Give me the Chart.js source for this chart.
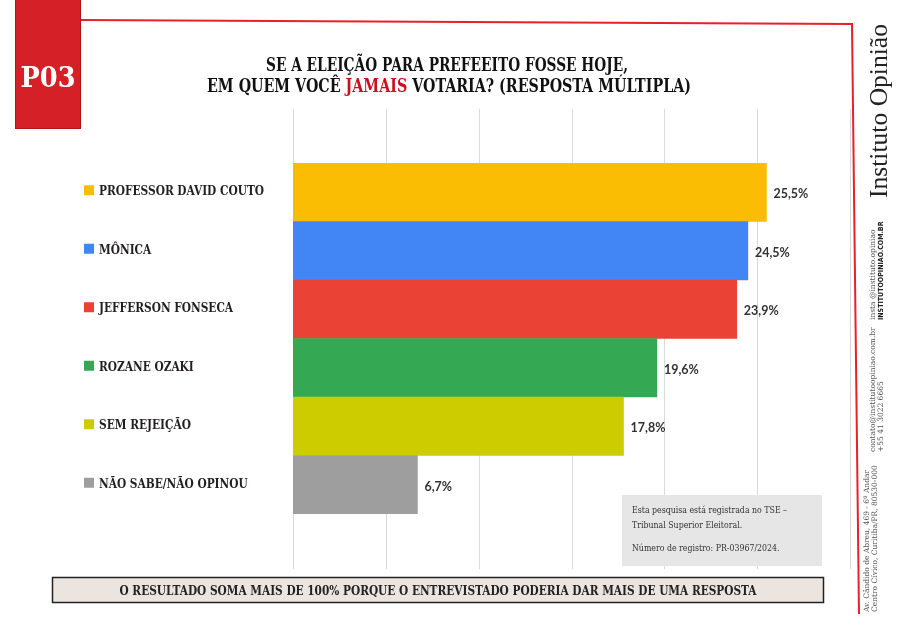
<!DOCTYPE html>
<html>
<head>
<meta charset="utf-8">
<script src="https://cdn.jsdelivr.net/npm/chart.js@4.4.1/dist/chart.umd.min.js"></script>
<style>
  html, body { margin: 0; padding: 0; background: #fff; }
  canvas { display: block; }
</style>
</head>
<body>
<canvas id="chart" width="899" height="627"></canvas>
<script>
const categories = ["PROFESSOR DAVID COUTO", "MÔNICA", "JEFFERSON FONSECA", "ROZANE OZAKI", "SEM REJEIÇÃO", "NÃO SABE/NÃO OPINOU"];
const values = [25.5, 24.5, 23.9, 19.6, 17.8, 6.7];
const barColors = ["#fbbc04", "#4285f4", "#ea4335", "#34a853", "#cccc00", "#9e9e9e"];
const xTicks = [0, 5, 10, 15, 20, 25, 30];
const titleLines = ["SE A ELEIÇÃO PARA PREFEEITO FOSSE HOJE,", ["EM QUEM VOCÊ ", "JAMAIS", " VOTARIA? (RESPOSTA MÚLTIPLA)"]];
const footerText = "O RESULTADO SOMA MAIS DE 100% PORQUE O ENTREVISTADO PODERIA DAR MAIS DE UMA RESPOSTA";
const noteLines = ["Esta pesquisa está registrada no TSE –", "Tribunal Superior Eleitoral.", "Número de registro: PR-03967/2024."];

const SLAB = "'DejaVu Serif Condensed', 'DejaVu Serif', serif";
const fmt = v => v.toFixed(1).replace(".", ",") + "%";

// draw text squeezed/stretched to a given width
function fitText(ctx, text, x, y, w, font, color, align) {
  ctx.save();
  ctx.font = font;
  ctx.fillStyle = color;
  const sx = w / ctx.measureText(text).width;
  ctx.translate(x, y);
  ctx.scale(sx, 1);
  ctx.textAlign = align || "left";
  ctx.fillText(text, 0, 0);
  ctx.restore();
  return sx;
}

function vText(ctx, text, x, y, font, color, align) {
  ctx.save();
  ctx.translate(x, y);
  ctx.rotate(-Math.PI / 2);
  ctx.font = font;
  ctx.fillStyle = color;
  ctx.textAlign = align || "left";
  ctx.textBaseline = "middle";
  ctx.fillText(text, 0, 0);
  ctx.restore();
}

const gridPlugin = {
  id: "grid",
  beforeDraw(chart) {
    const ctx = chart.ctx;
    ctx.save();
    ctx.fillStyle = "#fff";
    ctx.fillRect(0, 0, chart.width, chart.height);
    ctx.restore();
  },
  beforeDatasetsDraw(chart) {
    const ctx = chart.ctx, xs = chart.scales.x;
    ctx.save();
    ctx.strokeStyle = "#d9d9d9";
    ctx.lineWidth = 1;
    xTicks.forEach(t => {
      const px = Math.round(xs.getPixelForValue(t)) + 0.5;
      ctx.beginPath();
      ctx.moveTo(px, 109);
      ctx.lineTo(px, 569);
      ctx.stroke();
    });
    ctx.restore();
  }
};

const decoPlugin = {
  id: "deco",
  afterDraw(chart) {
    const ctx = chart.ctx, xs = chart.scales.x, ys = chart.scales.y;

    // red frame line
    ctx.save();
    ctx.strokeStyle = "#e8202a";
    ctx.lineWidth = 2;
    ctx.beginPath();
    ctx.moveTo(81, 20);
    ctx.lineTo(852, 24);
    ctx.lineTo(859, 614);
    ctx.stroke();
    ctx.restore();

    // P03 tag
    ctx.save();
    ctx.fillStyle = "#d52027";
    ctx.fillRect(15, 0, 66, 129);
    ctx.strokeStyle = "#b3141c";
    ctx.lineWidth = 1;
    ctx.strokeRect(15.5, -1, 65, 129.5);
    ctx.restore();
    fitText(ctx, "P03", 48, 87, 55, "bold 28px " + SLAB, "#fff", "center");

    // title
    fitText(ctx, titleLines[0], 447, 71, 362, "bold 18px " + SLAB, "#111", "center");
    ctx.save();
    ctx.font = "bold 18px " + SLAB;
    const segs = titleLines[1];
    const total = segs.reduce((a, s) => a + ctx.measureText(s).width, 0);
    const sx = 484 / total;
    ctx.translate(207, 92);
    ctx.scale(sx, 1);
    let cx = 0;
    segs.forEach((s, i) => {
      ctx.fillStyle = i === 1 ? "#c8101e" : "#111";
      ctx.fillText(s, cx, 0);
      cx += ctx.measureText(s).width;
    });
    ctx.restore();

    // category labels with colour squares
    ctx.save();
    ctx.font = "bold 13px " + SLAB;
    const lsx = 165 / ctx.measureText(categories[0]).width;
    categories.forEach((c, i) => {
      const py = ys.getPixelForValue(i);
      ctx.fillStyle = barColors[i];
      ctx.fillRect(84, py - 7, 10, 10);
      ctx.save();
      ctx.translate(99, py + 3);
      ctx.scale(lsx, 1);
      ctx.fillStyle = "#231f20";
      ctx.textBaseline = "alphabetic";
      ctx.fillText(c, 0, 0);
      ctx.restore();
    });
    ctx.restore();

    // value labels
    ctx.save();
    ctx.font = "bold 12.5px Lato, 'Open Sans', sans-serif";
    ctx.fillStyle = "#333";
    ctx.textBaseline = "middle";
    values.forEach((v, i) => {
      ctx.fillText(fmt(v), xs.getPixelForValue(v) + 7, ys.getPixelForValue(i) + 2);
    });
    ctx.restore();

    // TSE note box
    ctx.save();
    ctx.fillStyle = "#e6e6e6";
    ctx.fillRect(622, 495, 200, 71);
    ctx.font = "9.5px " + SLAB;
    const nsx = 155 / ctx.measureText(noteLines[0]).width;
    [513, 528, 551].forEach((by, i) => {
      ctx.save();
      ctx.translate(632, by);
      ctx.scale(nsx, 1);
      ctx.fillStyle = "#333";
      ctx.fillText(noteLines[i], 0, 0);
      ctx.restore();
    });
    ctx.restore();

    // footer box
    ctx.save();
    ctx.fillStyle = "#ece4df";
    ctx.fillRect(52, 577, 772, 26);
    ctx.strokeStyle = "#222";
    ctx.lineWidth = 1.5;
    ctx.strokeRect(52.5, 577.5, 771, 25);
    ctx.restore();
    fitText(ctx, footerText, 438, 595, 637, "bold 13px " + SLAB, "#222", "center");

    // right-hand side branding
    ctx.save();
    ctx.translate(887, 111);
    ctx.rotate(-Math.PI / 2);
    ctx.font = "25px 'Liberation Serif', serif";
    const bw = ctx.measureText("Instituto Opinião").width;
    ctx.scale(174 / bw, 1);
    ctx.fillStyle = "#222";
    ctx.textAlign = "center";
    ctx.fillText("Instituto Opinião", 0, 0);
    ctx.restore();

    const small = "7.5px 'DejaVu Serif', serif";
    vText(ctx, "insta @instituto.opiniao", 873, 320, small, "#555");
    vText(ctx, "INSTITUTOOPINIAO.COM.BR", 881, 320, "bold 7px 'DejaVu Sans Condensed', 'DejaVu Sans', sans-serif", "#222");
    vText(ctx, "contato@institutoopiniao.com.br", 873, 452, small, "#555");
    vText(ctx, "+55 41 3022 6665", 881, 452, small, "#555");
    vText(ctx, "Av. Cândido de Abreu, 469 - 6º Andar", 867, 612, small, "#555");
    vText(ctx, "Centro Cívico, Curitiba/PR, 80530-000", 875, 612, small, "#555");
  }
};

new Chart(document.getElementById("chart"), {
  type: "bar",
  data: {
    labels: categories,
    datasets: [{
      data: values,
      backgroundColor: barColors,
      borderWidth: 0,
      barPercentage: 1,
      categoryPercentage: 1
    }]
  },
  options: {
    indexAxis: "y",
    responsive: false,
    animation: false,
    layout: { padding: { left: 293, right: 49, top: 163, bottom: 113 } },
    scales: {
      x: { type: "linear", min: 0, max: 30, display: false },
      y: { display: false }
    },
    plugins: { legend: { display: false }, tooltip: { enabled: false } }
  },
  plugins: [gridPlugin, decoPlugin]
});
</script>
</body>
</html>
